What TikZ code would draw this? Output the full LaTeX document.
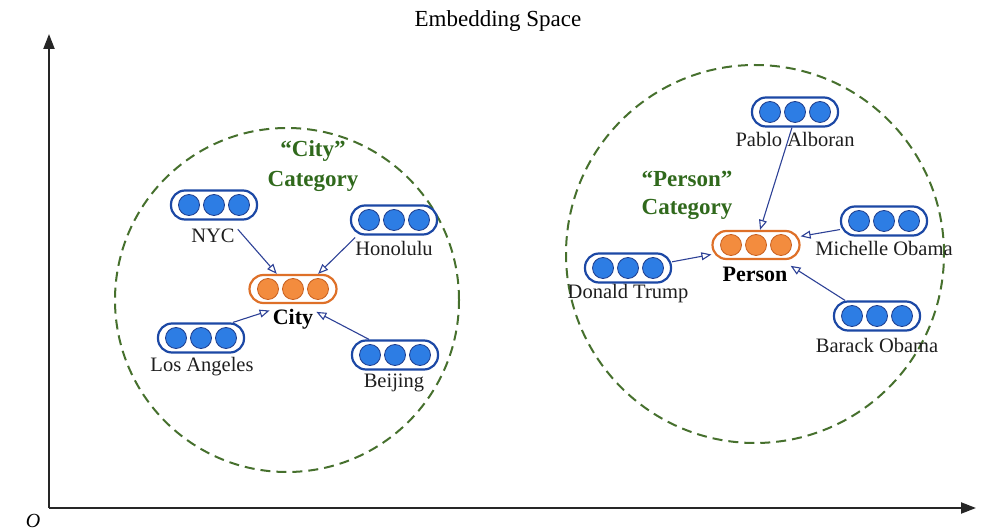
\documentclass[tikz,border=0pt]{standalone}
\usepackage{fontspec}
\setmainfont{Liberation Serif}
\usetikzlibrary{arrows.meta,calc}
\definecolor{boxblue}{RGB}{28,72,165}
\definecolor{dotblue}{RGB}{45,125,228}
\definecolor{dotedge}{RGB}{30,60,140}
\definecolor{boxorange}{RGB}{222,112,40}
\definecolor{dotorange}{RGB}{243,140,62}
\definecolor{dotoedge}{RGB}{200,95,30}
\definecolor{catgreen}{RGB}{48,105,28}
\definecolor{ringgreen}{RGB}{70,112,45}
\definecolor{arrblue}{RGB}{45,65,150}
\definecolor{txt}{RGB}{30,30,30}
\newcommand{\vecnode}[4]{%
  \node[#3] (#1) at (#2) {};
  \foreach \dx/\i in {-25/a,0/b,25/c}{\node[#4] (#1\i) at ($(#1)+(\dx,0)$) {};}
}
\begin{document}
\begin{tikzpicture}[x=1pt,y=1pt,
  bluebox/.style={draw=boxblue,line width=2.2pt,fill=white,rectangle,rounded corners=14pt,minimum width=86pt,minimum height=29pt,inner sep=0pt},
  orangebox/.style={draw=boxorange,line width=2.2pt,fill=white,rectangle,rounded corners=14pt,minimum width=87pt,minimum height=28pt,inner sep=0pt},
  bluedot/.style={circle,draw=dotedge,line width=0.8pt,fill=dotblue,minimum size=21pt,inner sep=0pt},
  orangedot/.style={circle,draw=dotoedge,line width=0.8pt,fill=dotorange,minimum size=21pt,inner sep=0pt},
  lab/.style={text=txt,font=\fontsize{20.5}{24}\selectfont,inner sep=3pt},
  blab/.style={text=black,font=\fontsize{22}{26}\selectfont\bfseries,inner sep=3pt},
  cat/.style={text=catgreen,font=\fontsize{23}{27}\selectfont\bfseries,inner sep=2pt},
  ring/.style={draw=ringgreen,line width=2pt,dash pattern=on 10pt off 6pt},
  arr/.style={draw=arrblue,line width=1.1pt,-{Triangle[open,length=10pt,width=8pt]}},
  axis/.style={draw=black!85,line width=2.2pt,-{Triangle[length=15pt,width=11pt]}}
]
\useasboundingbox (0,0) rectangle (990,530);
% title
\node[text=black,font=\fontsize{23}{27}\selectfont] (title) at (498,509) {Embedding Space};
% axes
\coordinate (O) at (49,22);
\coordinate (ytip) at (49,496);
\coordinate (xtip) at (976,22);
\draw[axis] (O) -- (ytip);
\draw[axis] (O) -- (xtip);
\node[font=\fontsize{20}{24}\selectfont\itshape] (olab) at (33,9) {O};
% category rings
\draw[ring] (287,230) circle (172pt);
\draw[ring] (755,276) circle (189pt);
% city category
\node[cat] (cityq) at (313,379) {``City''};
\node[cat] (citycat) at (313,349) {Category};
\vecnode{city}{293,241}{orangebox}{orangedot}
\node[blab] (cityl) at (293,211) {City};
\vecnode{nyc}{214,325}{bluebox}{bluedot}
\node[lab] (nycl) at (213,294) {NYC};
\vecnode{hon}{394,310}{bluebox}{bluedot}
\node[lab] (honl) at (394,282) {Honolulu};
\vecnode{la}{201,192}{bluebox}{bluedot}
\node[lab] (lal) at (202,163) {Los Angeles};
\vecnode{bei}{395,175}{bluebox}{bluedot}
\node[lab] (beil) at (394,147) {Beijing};
\draw[arr] (nycl.15) -- (city.137);
\draw[arr] (honl.165) -- (city.31);
\draw[arr] (la.26) -- (cityl.160);
\draw[arr] (bei.149) -- (cityl.17);
% person category
\node[cat] (perq) at (687,351) {``Person''};
\node[cat] (percat) at (687,321) {Category};
\vecnode{per}{756,285}{orangebox}{orangedot}
\node[blab] (perl) at (755,256) {Person};
\vecnode{pab}{795,418}{bluebox}{bluedot}
\node[lab] (pabl) at (795,391) {Pablo Alboran};
\vecnode{mic}{884,309}{bluebox}{bluedot}
\node[lab] (micl) at (884,282) {Michelle Obama};
\vecnode{don}{628,262}{bluebox}{bluedot}
\node[lab] (donl) at (628,236) {Donald Trump};
\vecnode{bar}{877,214}{bluebox}{bluedot}
\node[lab] (barl) at (877,185) {Barack Obama};
\draw[arr] (pab.-101) -- (per.75);
\draw[arr] (mic.191) -- (per.11);
\draw[arr] (don.8) -- (per.192);
\draw[arr] (bar.154) -- (perl.13);
\end{tikzpicture}
\end{document}
